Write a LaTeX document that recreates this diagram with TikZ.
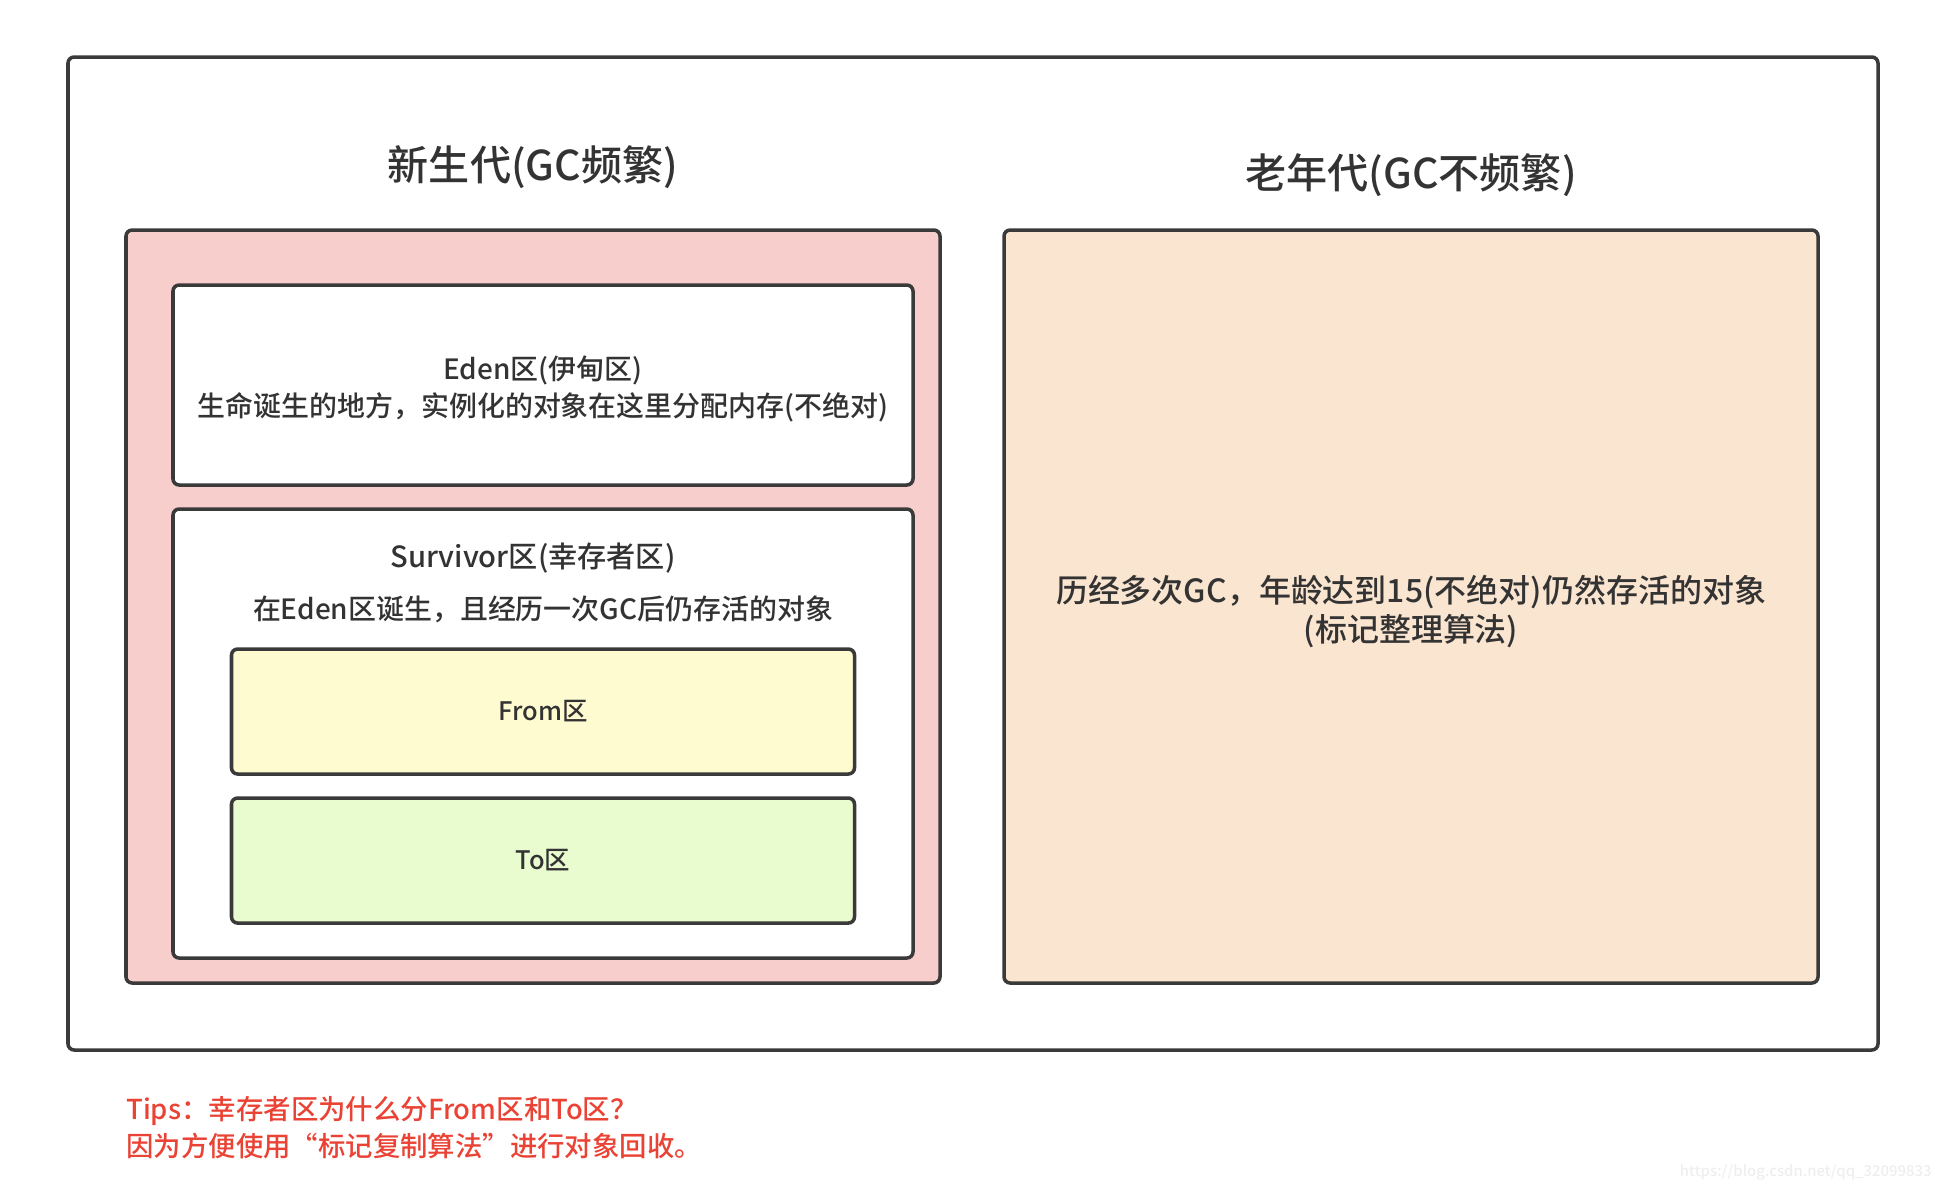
\documentclass[tikz,border=0pt]{standalone}
\usepackage{fontspec}
\newfontfamily\cjk{Noto Sans CJK SC Medium}
\usepackage{tikz}
\usetikzlibrary{positioning}
\usepackage{xcolor}
\definecolor{gcborder}{RGB}{58,58,58}
\definecolor{gctext}{RGB}{51,51,51}
\definecolor{gcpink}{RGB}{248,206,204}
\definecolor{gcpeach}{RGB}{250,229,208}
\definecolor{gcyellow}{RGB}{255,251,209}
\definecolor{gcgreen}{RGB}{232,252,208}
\definecolor{gcred}{RGB}{234,67,53}
\definecolor{gcmark}{RGB}{238,238,238}

\begin{document}
\begin{tikzpicture}[
      region/.style={draw=gcborder,line width=2pt,rounded corners=3.5pt,
                     align=center,text=gctext,inner sep=0pt},
      gen/.style={region,minimum width=16.28cm,minimum height=15.06cm},
      space/.style={region,fill=white,minimum width=14.8cm,minimum height=4cm},
      half/.style={region,minimum width=12.46cm,minimum height=2.5cm,
                   font=\cjk\fontsize{14.5}{18}\selectfont},
      gentitle/.style={text=gctext,font=\cjk\fontsize{23.4}{28}\selectfont},
      survtext/.style={text=gctext,align=center,font=\cjk\fontsize{15.9}{21}\selectfont},
      oldtext/.style={text=gctext,align=center,font=\cjk\fontsize{18.2}{22}\selectfont},
      tips/.style={text=gcred,align=left,inner sep=0pt,font=\cjk\fontsize{15.6}{21}\selectfont},
      wmtext/.style={text=gcmark,inner sep=0pt,font=\cjk\fontsize{8.5}{11}\selectfont}
  ]
    \useasboundingbox (0,0) rectangle (38.84,-23.8);

    \node[region,fill=white,minimum width=36.2cm,minimum height=19.86cm] (heap) at (19.46,-11.07) {};

    \node[gen,fill=gcpink] (young) at (10.66,-12.13) {};
    \node[gen,fill=gcpeach,right=1.21cm of young] (old) {};
    \node[oldtext] (oldtxt) at ([yshift=-0.1cm]old.center)
         {历经多次GC，年龄达到15(不绝对)仍然存活的对象\\(标记整理算法)};

    \node[gentitle,above=1.22cm of young.north,anchor=center] (youngtitle) {新生代(GC频繁)};
    \node[gentitle,above=1.06cm of old.north,anchor=center]  (oldtitle) {老年代(GC不频繁)};

    \node[space,below=1.1cm of young.north,xshift=0.2cm] (eden) {};
    \node[survtext] (edentxt) at ([yshift=-0.08cm]eden.center)
         {Eden区(伊甸区)\\生命诞生的地方，实例化的对象在这里分配内存(不绝对)};

    \node[space,below=0.41cm of eden,minimum height=8.98cm] (survivor) {};
    \node[survtext,below=1.01cm of survivor.north,anchor=center,xshift=-0.2cm,
          font=\cjk\fontsize{16.6}{21}\selectfont] (survtitle) {Survivor区(幸存者区)};
    \node[survtext,below=2.05cm of survivor.north,anchor=center] (survdesc) {在Eden区诞生，且经历一次GC后仍存活的对象};

    \node[half,fill=gcyellow,below=2.8cm of survivor.north] (from) {From区};
    \node[half,fill=gcgreen,below=0.41cm of from] (to) {To区};

    \node[tips,anchor=west] (tip) at (2.52,-22.56)
         {Tips：幸存者区为什么分From区和To区？\\因为方便使用“标记复制算法”进行对象回收。};

    \node[wmtext,anchor=east] (wm) at (38.64,-23.44) {https://blog.csdn.net/qq\_32099833};
  \end{tikzpicture}
\end{document}
